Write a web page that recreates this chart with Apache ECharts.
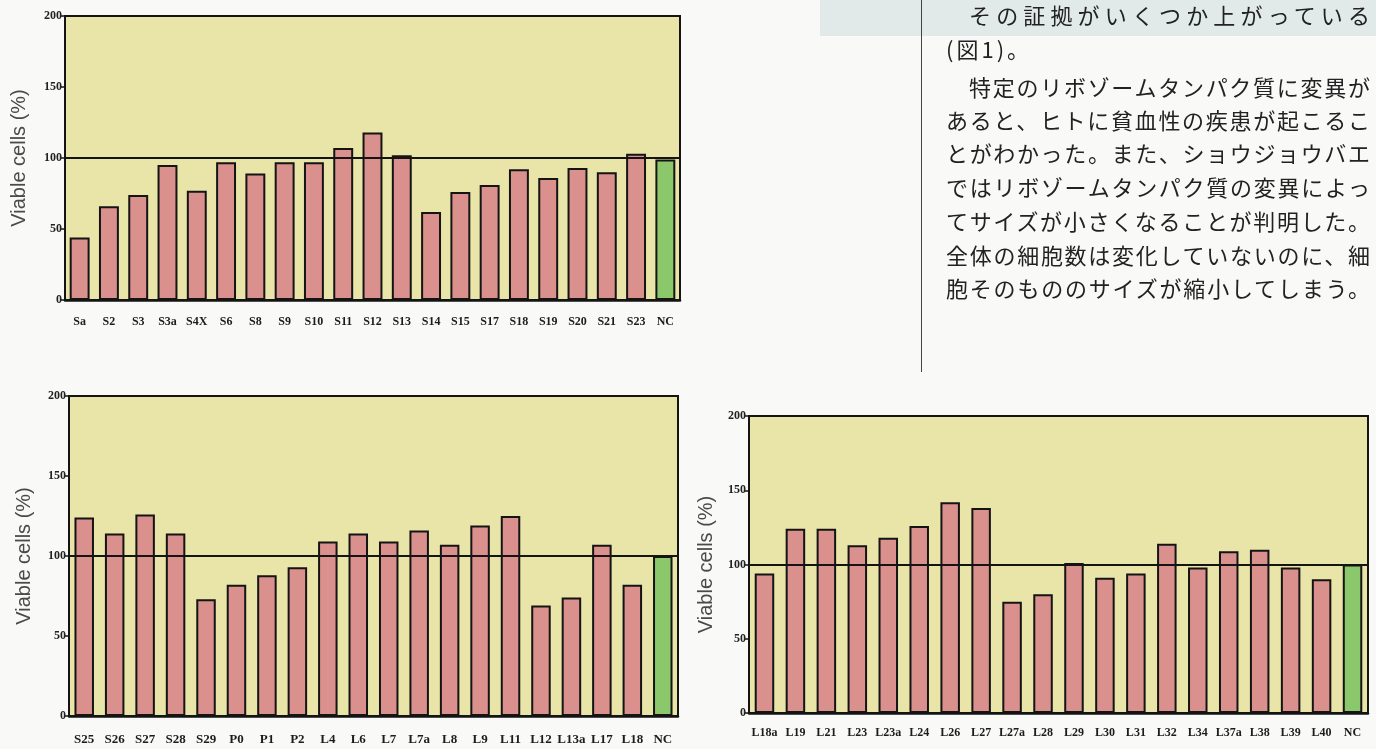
<!DOCTYPE html>
<html>
<head>
<meta charset="utf-8">
<title>Viable cells</title>
<script src="https://cdn.jsdelivr.net/npm/echarts@6/dist/echarts.min.js"></script>
<style>
  html, body { margin: 0; padding: 0; background: #f9faf8; }
  #chart { position: absolute; left: 0; top: 0; width: 1376px; height: 749px; }
  .band { position: absolute; left: 820px; top: 0; width: 556px; height: 36px; background: #e1eae8; }
  .rule { position: absolute; left: 921px; top: 0; width: 1px; height: 372px; background: #444; }
  .col { position: absolute; left: 946px; top: 0; width: 424px;
         font-family: "Noto Sans CJK JP", sans-serif; font-size: 22px; color: #222; }
  .col div { position: absolute; left: 0; width: 424px; height: 30px; line-height: 30px;
             white-space: nowrap; text-align: justify; text-align-last: justify; }
  .col div.left { text-align: left; text-align-last: left; letter-spacing: 3px; }
  .col div.ind { left: 23px; width: 401px; }
</style>
</head>
<body>
<div class="band"></div>
<div id="chart"></div>
<div class="rule"></div>
<div class="col">
  <div class="ind" style="top:-1px">その証拠がいくつか上がっている</div>
  <div class="left" style="top:33px">(図1)。</div>
  <div class="ind" style="top:71px">特定のリボゾームタンパク質に変異が</div>
  <div style="top:104px">あると、ヒトに貧血性の疾患が起こるこ</div>
  <div style="top:137px">とがわかった。また、ショウジョウバエ</div>
  <div style="top:171px">ではリボゾームタンパク質の変異によっ</div>
  <div style="top:205px">てサイズが小さくなることが判明した。</div>
  <div style="top:239px">全体の細胞数は変化していないのに、細</div>
  <div style="top:272px">胞そのもののサイズが縮小してしまう。</div>
</div>
<script>
// Small-subunit knockdowns (upper panel)
const topCats = ['Sa','S2','S3','S3a','S4X','S6','S8','S9','S10','S11','S12','S13','S14','S15','S17','S18','S19','S20','S21','S23','NC'];
const topVals = [44, 66, 74, 95, 77, 97, 89, 97, 97, 107, 118, 102, 62, 76, 81, 92, 86, 93, 90, 103, 99];

// S25 to L18 (lower left panel)
const leftCats = ['S25','S26','S27','S28','S29','P0','P1','P2','L4','L6','L7','L7a','L8','L9','L11','L12','L13a','L17','L18','NC'];
const leftVals = [124, 114, 126, 114, 73, 82, 88, 93, 109, 114, 109, 116, 107, 119, 125, 69, 74, 107, 82, 100];

// L18a to L40 (lower right panel)
const rightCats = ['L18a','L19','L21','L23','L23a','L24','L26','L27','L27a','L28','L29','L30','L31','L32','L34','L37a','L38','L39','L40','NC'];
const rightVals = [94, 124, 124, 113, 118, 126, 142, 138, 75, 80, 101, 91, 94, 114, 98, 109, 110, 98, 90, 100];

// Value axis range and the control level
const yMin = 0;
const yMax = 200;
const yStep = 50;
const controlLevel = 100;
const yTitle = 'Viable cells (%)';

const PINK = '#da908d';
const GREEN = '#8ac86b';
const PLOT_BG = '#e9e4a7';
const INK = '#141414';

const grids = [
  { left: 65, top: 16, width: 615, height: 284 },
  { left: 69, top: 396, width: 609, height: 320 },
  { left: 749, top: 416, width: 619, height: 297 }
];

const panels = [
  { cats: topCats, vals: topVals, labelSize: 12, labelMargin: 16, gap: '32%', nameGap: 36 },
  { cats: leftCats, vals: leftVals, labelSize: 13, labelMargin: 17, gap: '36%', nameGap: 35 },
  { cats: rightCats, vals: rightVals, labelSize: 12, labelMargin: 14, gap: '37%', nameGap: 33 }
];

const option = {
  animation: false,
  backgroundColor: 'transparent',
  grid: grids.map(g => Object.assign({
    show: true,
    backgroundColor: PLOT_BG,
    borderColor: INK,
    borderWidth: 2,
    containLabel: false
  }, g)),
  xAxis: panels.map((p, i) => ({
    type: 'category',
    gridIndex: i,
    data: p.cats,
    axisLine: { lineStyle: { color: INK, width: 2.5 } },
    axisTick: { alignWithLabel: true, length: 6, lineStyle: { color: INK, width: 1.5 } },
    axisLabel: {
      interval: 0,
      margin: p.labelMargin,
      fontFamily: 'Liberation Serif',
      fontSize: p.labelSize,
      fontWeight: 'bold',
      color: '#1c1c1c'
    },
    splitLine: { show: false }
  })),
  yAxis: panels.map((p, i) => ({
    type: 'value',
    gridIndex: i,
    min: yMin,
    max: yMax,
    interval: yStep,
    name: yTitle,
    nameLocation: 'middle',
    nameGap: p.nameGap,
    nameTextStyle: { fontFamily: 'Liberation Sans', fontSize: 20, color: '#4a4a4a' },
    axisLine: { show: true, lineStyle: { color: INK, width: 2 } },
    axisTick: { show: true, length: 4, lineStyle: { color: INK, width: 1.5 } },
    axisLabel: {
      margin: 3,
      fontFamily: 'Liberation Serif',
      fontSize: 12,
      fontWeight: 'bold',
      color: '#222'
    },
    splitLine: { show: false }
  })),
  series: panels.map((p, i) => ({
    type: 'bar',
    xAxisIndex: i,
    yAxisIndex: i,
    barCategoryGap: p.gap,
    data: p.vals.map((v, k) => ({
      value: v,
      itemStyle: { color: p.cats[k] === 'NC' ? GREEN : PINK }
    })),
    itemStyle: { borderColor: INK, borderWidth: 2 },
    markLine: {
      silent: true,
      symbol: ['none', 'none'],
      label: { show: false },
      lineStyle: { color: INK, width: 2, type: 'solid' },
      data: [{ yAxis: controlLevel }]
    }
  }))
};

const chart = echarts.init(document.getElementById('chart'), null, { renderer: 'canvas' });
chart.setOption(option);
</script>
</body>
</html>
